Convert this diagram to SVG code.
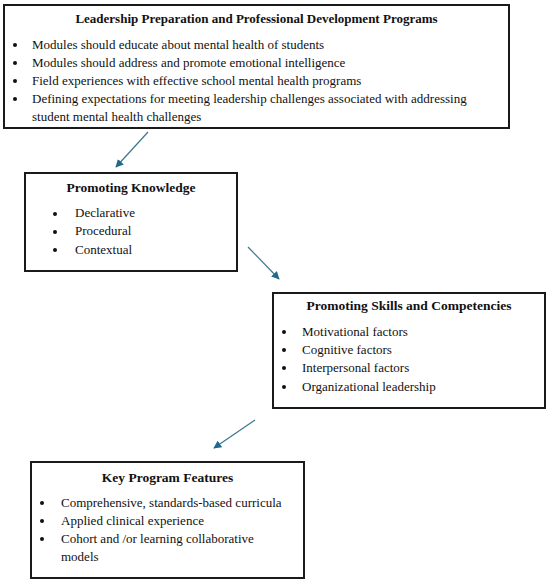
<svg xmlns="http://www.w3.org/2000/svg" width="550" height="582" viewBox="0 0 550 582">
<style>
.box{fill:#fff;stroke:#1a1a1a;stroke-width:2}
.t{font-family:"Liberation Serif","Times New Roman",serif;font-size:13px;fill:#111}
.h{font-family:"Liberation Serif","Times New Roman",serif;font-size:13.5px;font-weight:bold;fill:#111;text-anchor:middle}
.b{fill:#111}
.arr{stroke:#3b7590;stroke-width:1.2;fill:none;marker-end:url(#ah)}
</style>
<defs>
<marker id="ah" viewBox="0 0 10 10" refX="9" refY="5" markerWidth="8" markerHeight="8" markerUnits="userSpaceOnUse" orient="auto">
<path d="M0,0 L10,5 L0,10 z" fill="#1f6a8a"/>
</marker>
</defs>
<rect width="550" height="582" fill="#fff"/>
<g id="connectors">
<line class="arr" x1="148" y1="132" x2="116" y2="167"/>
<line class="arr" x1="248" y1="247" x2="279" y2="279"/>
<line class="arr" x1="255" y1="420" x2="214" y2="448"/>
</g>
<g id="node-leadership">
<rect class="box" x="4" y="5" width="505" height="123"/>
<text class="h" x="256.5" y="23" style="font-size:13px">Leadership Preparation and Professional Development Programs</text>
<circle class="b" cx="15" cy="45" r="2"/><text class="t" x="32" y="49">Modules should educate about mental health of students</text>
<circle class="b" cx="15" cy="63" r="2"/><text class="t" x="32" y="67">Modules should address and promote emotional intelligence</text>
<circle class="b" cx="15" cy="81" r="2"/><text class="t" x="32" y="85">Field experiences with effective school mental health programs</text>
<circle class="b" cx="15" cy="99" r="2"/><text class="t" x="32" y="103">Defining expectations for meeting leadership challenges associated with addressing</text>
<text class="t" x="32" y="121">student mental health challenges</text>
</g>
<g id="node-knowledge">
<rect class="box" x="25" y="173" width="212" height="98"/>
<text class="h" x="131" y="192">Promoting Knowledge</text>
<circle class="b" cx="55" cy="214" r="2"/><text class="t" x="75" y="217">Declarative</text>
<circle class="b" cx="55" cy="232" r="2"/><text class="t" x="75" y="235">Procedural</text>
<circle class="b" cx="55" cy="250" r="2"/><text class="t" x="75" y="254">Contextual</text>
</g>
<g id="node-skills">
<rect class="box" x="273" y="293" width="272" height="115"/>
<text class="h" x="409" y="310">Promoting Skills and Competencies</text>
<circle class="b" cx="284" cy="332" r="2"/><text class="t" x="302" y="336">Motivational factors</text>
<circle class="b" cx="284" cy="350" r="2"/><text class="t" x="302" y="354">Cognitive factors</text>
<circle class="b" cx="284" cy="368" r="2"/><text class="t" x="302" y="372">Interpersonal factors</text>
<circle class="b" cx="284" cy="387" r="2"/><text class="t" x="302" y="391">Organizational leadership</text>
</g>
<g id="node-features">
<rect class="box" x="31" y="462" width="273" height="116"/>
<text class="h" x="167.5" y="482">Key Program Features</text>
<circle class="b" cx="42" cy="503" r="2"/><text class="t" x="61" y="507">Comprehensive, standards-based curricula</text>
<circle class="b" cx="42" cy="521" r="2"/><text class="t" x="61" y="525">Applied clinical experience</text>
<circle class="b" cx="42" cy="539" r="2"/><text class="t" x="61" y="543">Cohort and /or learning collaborative</text>
<text class="t" x="61" y="561">models</text>
</g>
</svg>
